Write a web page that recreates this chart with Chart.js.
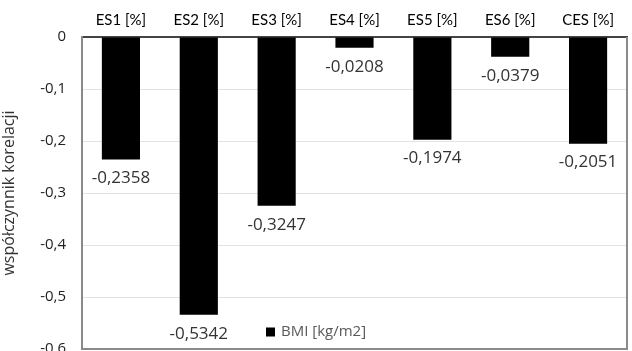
<!DOCTYPE html>
<html>
<head>
<meta charset="utf-8">
<script src="https://cdn.jsdelivr.net/npm/chart.js@4/dist/chart.umd.min.js"></script>
<style>
  html, body { margin: 0; padding: 0; background: #fff; overflow: hidden; }
</style>
</head>
<body>
<canvas id="corr-chart" width="632" height="351"></canvas>
<script>
const categories = ['ES1 [%]', 'ES2 [%]', 'ES3 [%]', 'ES4 [%]', 'ES5 [%]', 'ES6 [%]', 'CES [%]'];
const bmiValues = [-0.2358, -0.5342, -0.3247, -0.0208, -0.1974, -0.0379, -0.2051];
const seriesName = 'BMI [kg/m2]';
const axisTitle = 'współczynnik korelacji';

function comma(v) {
    return String(v).replace('.', ',');
}

// value labels under the bars + legend drawn inside the plot
const extras = {
    id: 'extras',
    afterDatasetsDraw(chart) {
        const ctx = chart.ctx;
        const meta = chart.getDatasetMeta(0);
        ctx.save();
        ctx.font = '17px "Open Sans"';
        ctx.fillStyle = '#333';
        ctx.textAlign = 'center';
        ctx.textBaseline = 'middle';
        meta.data.forEach((bar, i) => {
            ctx.fillText(comma(bmiValues[i]), bar.x, bar.y + 19);
        });

        // legend, sits a bit left of the middle like the original
        const area = chart.chartArea;
        ctx.font = '15px "Open Sans"';
        const x0 = area.left + 184;
        const y0 = area.bottom - 17;
        ctx.fillStyle = '#000';
        ctx.fillRect(x0, y0 - 4.5, 9, 9);
        ctx.fillStyle = '#595959';
        ctx.textAlign = 'left';
        ctx.fillText(seriesName, x0 + 15, y0);
        ctx.restore();
    }
};

new Chart(document.querySelector('#corr-chart').getContext('2d'), {
    type: 'bar',
    data: {
        labels: categories,
        datasets: [{
            label: seriesName,
            data: bmiValues,
            backgroundColor: '#000',
            borderWidth: 0,
            barPercentage: 0.49,
            categoryPercentage: 1
        }]
    },
    options: {
        responsive: false,
        animation: false,
        layout: { padding: { top: 0, right: 5, bottom: 2, left: 0 } },
        plugins: {
            legend: { display: false },
            tooltip: { enabled: false }
        },
        scales: {
            x: {
                position: 'top',
                grid: { display: false, drawTicks: false },
                border: { color: '#444', width: 2 },
                ticks: {
                    color: '#000',
                    font: { family: 'Lato', size: 15 },
                    padding: 8
                },
                afterFit(scale) { scale.height = 37; }
            },
            y: {
                min: -0.6,
                max: 0,
                grid: { color: '#e3e3e3', drawTicks: false },
                border: { color: '#8a8a8a', width: 2 },
                ticks: {
                    stepSize: 0.1,
                    color: '#222',
                    font: { family: 'Open Sans', size: 15 },
                    padding: 16,
                    callback: v => comma(Math.round(v * 10) / 10)
                },
                title: {
                    display: true,
                    text: axisTitle,
                    color: '#333',
                    font: { family: 'Open Sans', size: 16 },
                    padding: { top: 0, bottom: 2 }
                },
                afterFit(scale) {
                    scale.width = 82;
                    scale.paddingTop = 0;
                    scale.paddingBottom = 0;
                }
            }
        }
    },
    plugins: [extras,
        {
            id: 'frame',
            afterDraw(chart) {
                const a = chart.chartArea;
                const ctx = chart.ctx;
                ctx.save();
                ctx.strokeStyle = '#8a8a8a';
                ctx.lineWidth = 2;
                ctx.beginPath();
                ctx.moveTo(a.right, a.top);
                ctx.lineTo(a.right, a.bottom);
                ctx.lineTo(a.left, a.bottom);
                ctx.stroke();
                ctx.restore();
            }
        }
    ]
});
</script>
</body>
</html>
